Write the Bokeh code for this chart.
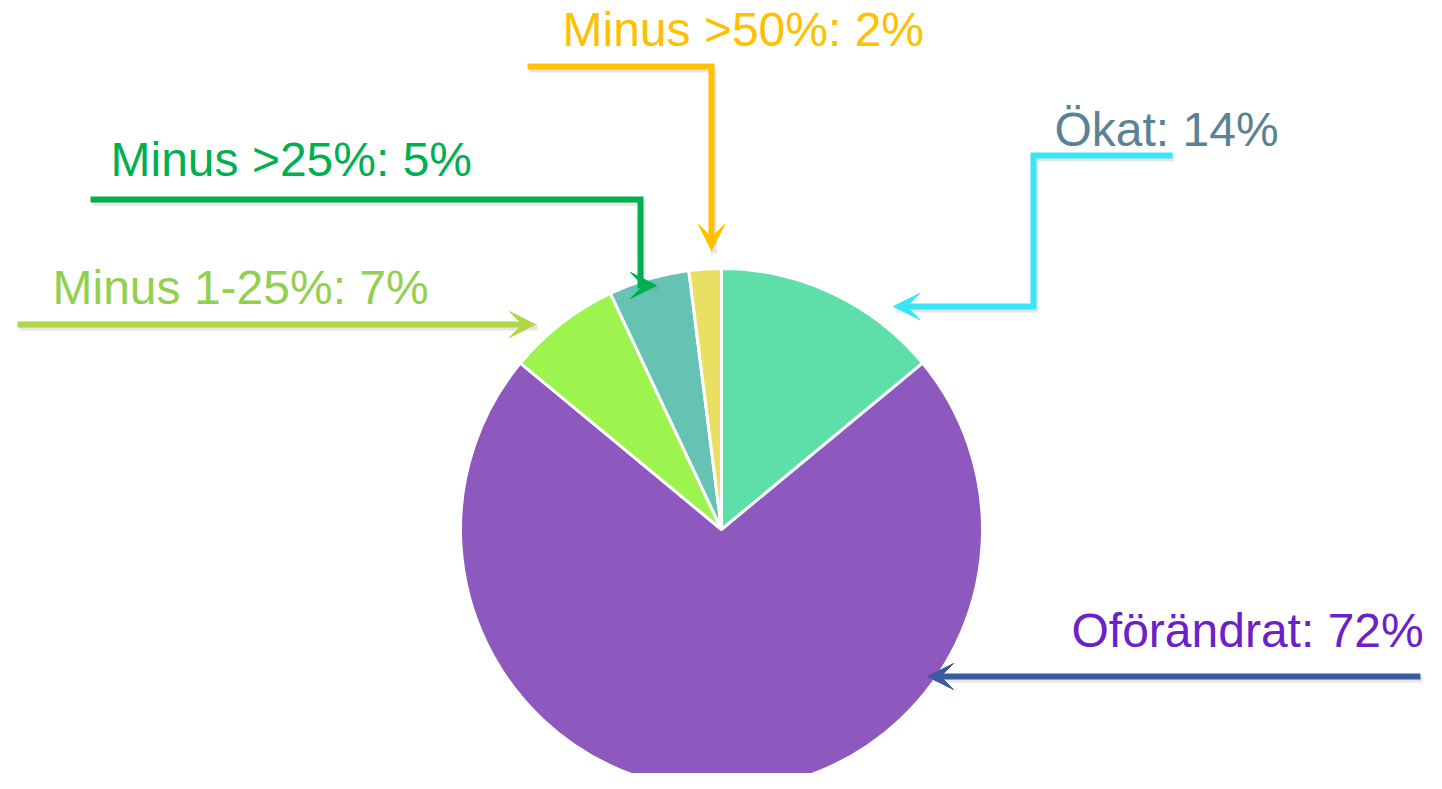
from bokeh.plotting import figure
from bokeh.models import Range1d, Arrow, VeeHead, ColumnDataSource
from bokeh.core.properties import value
from bokeh.embed import file_html
from bokeh.resources import INLINE
import numpy as np

# ---- data ----
categories = ["Ökat", "Oförändrat", "Minus 1-25%", "Minus >25%", "Minus >50%"]
shares = [14, 72, 7, 5, 2]
slice_colors = ["#5EDFA9", "#8E59BF", "#9EF44E", "#66C3B4", "#E9DF63"]
label_colors = ["#5A8296", "#6B21C8", "#92D050", "#00B050", "#FFC000"]
arrow_colors = ["#39E6F8", "#3A5BA0", "#B0D64A", "#00B050", "#FFC000"]

# ---- layout (screen pixel coords; converted below) ----
W, H = 1426, 773
def px(X, Y):
    return X, H - Y

pie_center = (721, 529)
pie_radius = 261
label_pos = [(1054, 146), (1071, 647), (52, 304), (110, 176), (562, 46)]
TEXT_SHIFT = 17
arrow_paths = [
    [(1172, 155), (1033, 155), (1033, 306), (893, 306)],
    [(1420, 676), (927, 676)],
    [(17, 324), (535, 324)],
    [(90, 199), (640, 199), (640, 285), (656, 285)],
    [(527, 66), (711, 66), (711, 250)],
]

p = figure(width=W, height=H, x_range=Range1d(0, W), y_range=Range1d(0, H),
           output_backend="svg", toolbar_location=None, min_border=0)
p.axis.visible = False
p.grid.visible = False
p.outline_line_color = None
p.background_fill_color = "white"
p.border_fill_color = "white"

# pie
vals = np.array(shares, dtype=float)
frac = vals / vals.sum()
cum = np.concatenate([[0], np.cumsum(frac)])
start = 90 - 360 * cum[:-1]
end = 90 - 360 * cum[1:]
cx, cy = px(*pie_center)
src = ColumnDataSource(dict(start=start, end=end, color=slice_colors))
p.wedge(x=cx, y=cy, radius=pie_radius, start_angle="start", end_angle="end",
        start_angle_units="deg", end_angle_units="deg", direction="clock",
        fill_color="color", line_color="white", line_width=3, source=src)

# arrows (shadow + line + head)
for path, col in zip(arrow_paths, arrow_colors):
    pts = [px(*q) for q in path]
    xs = [q[0] for q in pts]
    ys = [q[1] for q in pts]
    p.line([x + 2 for x in xs], [y - 3 for y in ys], line_color="#888888",
           line_alpha=0.22, line_width=6, line_join="round")
    p.line(xs[:-1] + [xs[-1] - np.sign(xs[-1] - xs[-2]) * 10],
           ys[:-1] + [ys[-1] - np.sign(ys[-1] - ys[-2]) * 10],
           line_color=col, line_width=6, line_join="miter")
    p.add_layout(Arrow(end=VeeHead(size=26, fill_color=col, line_color=col, line_width=1),
                       x_start=xs[-2], y_start=ys[-2], x_end=xs[-1], y_end=ys[-1],
                       line_color=col, line_width=0, line_alpha=0))

# labels
texts = [f"{c}: {s}%" for c, s in zip(categories, shares)]
lx = [px(*q)[0] for q in label_pos]
ly = [px(q[0], q[1] - TEXT_SHIFT)[1] for q in label_pos]
p.text(x=lx, y=ly, text=texts, text_color=label_colors,
       text_font=value("Liberation Sans"), text_font_size="48px",
       text_align="left", text_baseline="alphabetic")

open("out.html", "w").write(file_html(p, INLINE))
